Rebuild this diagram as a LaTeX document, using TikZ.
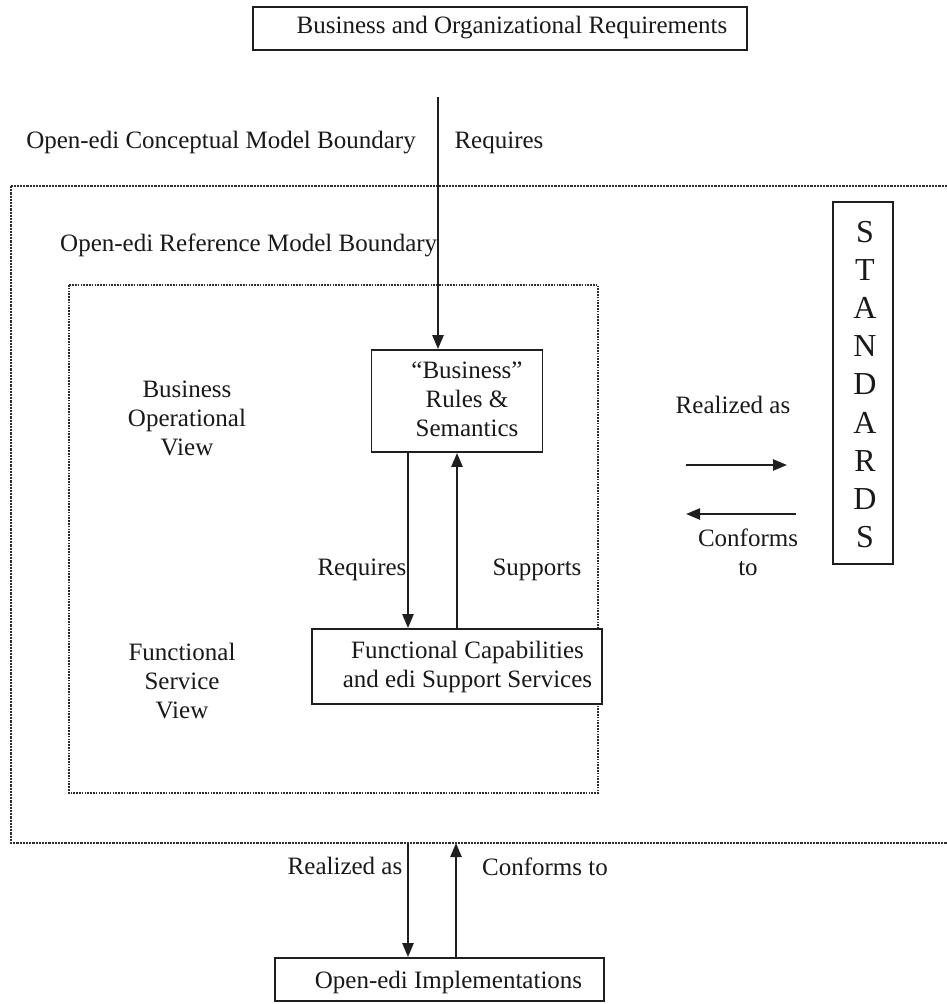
\documentclass[tikz,border=0pt]{standalone}
\usepackage{fontspec}
\setmainfont{Liberation Serif}
\usetikzlibrary{arrows.meta}
\begin{document}
\begin{tikzpicture}[x=1pt,y=-1pt,
  boxnode/.style={draw=black!88, line width=1.8pt, fill=white, inner sep=0pt},
  txt/.style={inner sep=0pt, font=\fontsize{25}{29}\selectfont, text=black!90, align=center},
  bigtxt/.style={inner sep=0pt, font=\fontsize{32}{38.2}\selectfont, text=black!90, align=center},
  flow/.style={draw=black!88, line width=2.4pt, -{Triangle[length=14pt,width=11pt]}},
  boundary/.style={draw=black!82, line width=2.4pt, dash pattern=on 2.2pt off 1pt},
  innerboundary/.style={draw=black!82, line width=2pt, dash pattern=on 1.6pt off 1.2pt}]
\clip (0,0) rectangle (947,1004);
\fill[white] (0,0) rectangle (947,1004);

% helper columns for the vertical connectors
\coordinate (colA) at (408,0);
\coordinate (colB) at (457,0);

% top requirement box
\node[boxnode, minimum width=494pt, minimum height=43pt] (bor) at (500,28.5) {};
\node[txt] (bortext) at (512,28) {Business and Organizational Requirements};

% conceptual model boundary
\coordinate (reqstart) at (438,97);
\node[txt] (concept) at (221,143) {Open-edi Conceptual Model Boundary};
\node[txt] (reqtop) at (499,143) {Requires};
\draw[boundary] (11,186) rectangle (990,843);

% reference model boundary
\node[txt, anchor=west] (reflabel) at (60,245) {Open-edi Reference Model Boundary};
\draw[innerboundary] (69,285) rectangle (598,793);

% business rules box
\node[boxnode, minimum width=171pt, minimum height=102pt] (brs) at (457,401) {};
\node[txt] (brstext) at (467,399) {“Business”\\Rules \&\\Semantics};
\draw[flow] (reqstart) -- (reqstart |- brs.north);

% views
\node[txt] (bov) at (187,418) {Business\\Operational\\View};
\node[txt] (fsv) at (182,681) {Functional\\Service\\View};

% functional services box
\node[boxnode, minimum width=290pt, minimum height=75pt] (fcs) at (457,666.5) {};
\node[txt] (fcstext) at (467.5,667) {Functional Capabilities\\and edi Support Services};
\draw[flow] (brs.south -| colA) -- (fcs.north -| colA);
\draw[flow] (fcs.north -| colB) -- (brs.south -| colB);
\node[txt] (reqmid) at (362,570) {Requires};
\node[txt] (supp) at (537,570) {Supports};

% standards
\node[boxnode, minimum width=60pt, minimum height=362pt] (std) at (863,383) {};
\node[bigtxt] (stdtext) at (865,384.5) {S\\T\\A\\N\\D\\A\\R\\D\\S};
\coordinate (raStart) at (686,465);
\coordinate (raEnd) at (787,465);
\coordinate (cfStart) at (796,514);
\coordinate (cfEnd) at (686,514);
\draw[flow] (raStart) -- (raEnd);
\draw[flow] (cfStart) -- (cfEnd);
\node[txt] (realright) at (733,405) {Realized as};
\node[txt] (confright) at (748,552) {Conforms\\to};

% implementations
\coordinate (bndA) at (408,843);
\coordinate (bndB) at (456,843);
\node[boxnode, minimum width=329pt, minimum height=43pt] (impl) at (439.5,979.5) {};
\node[txt] (impltext) at (448.5,982) {Open-edi Implementations};
\draw[flow] (bndA) -- (bndA |- impl.north);
\draw[flow] (impl.north -| bndB) -- (bndB);
\node[txt] (realbot) at (345,866) {Realized as};
\node[txt] (confbot) at (545,867) {Conforms to};
\end{tikzpicture}
\end{document}
